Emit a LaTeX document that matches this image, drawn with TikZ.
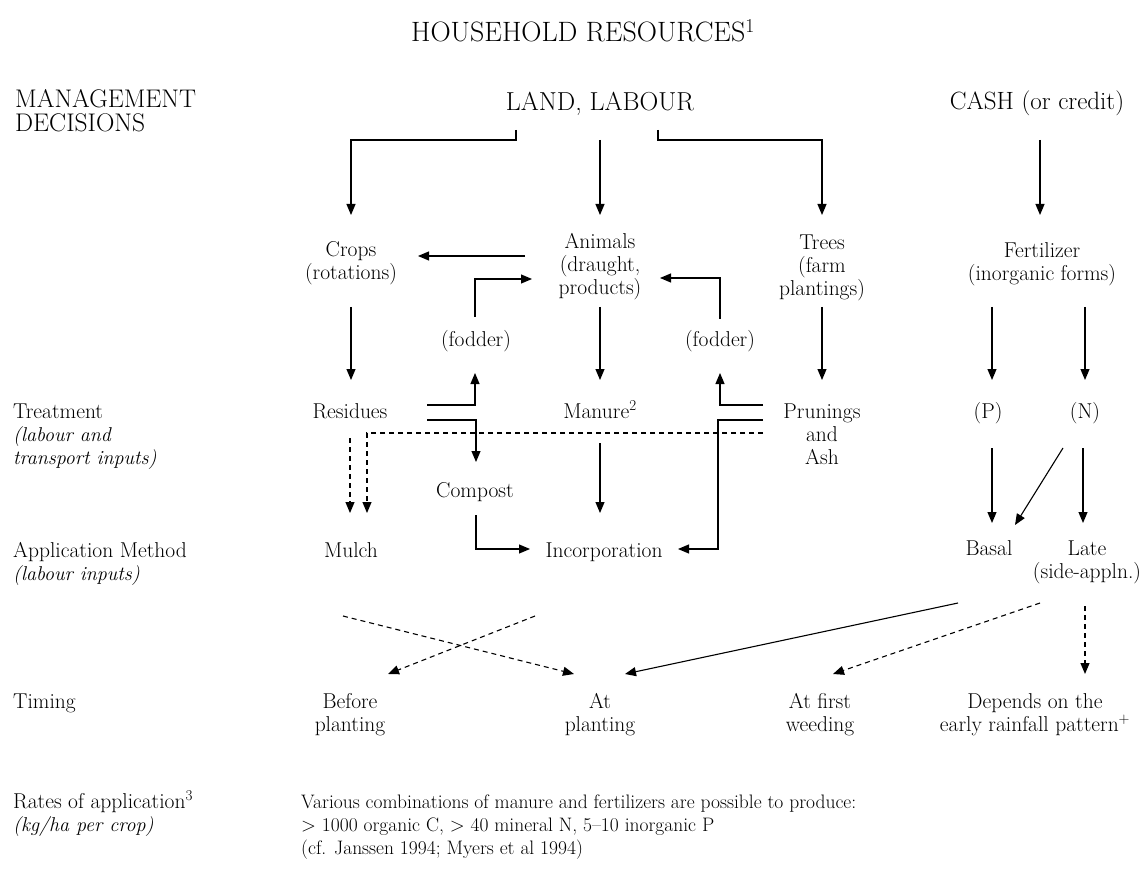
\documentclass[tikz,border=0pt]{standalone}
\usetikzlibrary{arrows.meta,calc}
\newcommand\sideit[1]{{\fontsize{20}{23}\selectfont\itshape #1}}
\begin{document}
\begin{tikzpicture}[x=1pt,y=-1pt,
  lbl/.style={inner sep=0pt,anchor=base,align=center,font=\fontsize{21.5}{23}\selectfont},
  caps/.style={inner sep=0pt,anchor=base,font=\fontsize{26}{26}\selectfont},
  side/.style={inner sep=0pt,anchor=base west,align=left,font=\fontsize{21.5}{23}\selectfont},
  arr/.style={line width=1.1pt,-{Triangle[width=9pt,length=11pt]}},
  darr/.style={arr,dash pattern=on 5pt off 4pt}]
\useasboundingbox (0,0) rectangle (1148,890);

% headings (the base anchor of a multi-line node sits on its last line)
\node[caps,font=\fontsize{28}{28}\selectfont] (title) at (583,42) {HOUSEHOLD RESOURCES\textsuperscript{1}};
\node[side,font=\fontsize{25.5}{24}\selectfont] (mgmt) at (15,132) {MANAGEMENT\\DECISIONS};
\node[caps] (land) at (600,111) {LAND, LABOUR};
\node[caps,font=\fontsize{25}{26}\selectfont] (cash) at (1037,110) {CASH (or credit)};

% resources
\node[lbl] (crops) at (351,280) {Crops\\(rotations)};
\node[lbl] (animals) at (600,295) {Animals\\(draught,\\products)};
\node[lbl] (trees) at (822,296) {Trees\\(farm\\plantings)};
\node[lbl] (fert) at (1042,281) {Fertilizer\\(inorganic forms)};
\node[lbl] (fod1) at (476,347) {(fodder)};
\node[lbl] (fod2) at (720,347) {(fodder)};

% treatment
\node[lbl] (res) at (350,418) {Residues};
\node[lbl] (man) at (600,418) {Manure\textsuperscript{2}};
\node[lbl] (prun) at (822,464) {Prunings\\and\\Ash};
\node[lbl] (pp) at (988,418) {(P)};
\node[lbl] (nn) at (1085,418) {(N)};
\node[lbl] (comp) at (475,497) {Compost};

% application method
\node[lbl] (mulch) at (351,557) {Mulch};
\node[lbl] (inc) at (604,557) {Incorporation};
\node[lbl] (basal) at (989,555) {Basal};
\node[lbl] (late) at (1087,578) {Late\\(side-appln.)};

% timing
\node[lbl] (before) at (350,731) {Before\\planting};
\node[lbl] (atpl) at (600,731) {At\\planting};
\node[lbl] (first) at (820,731) {At first\\weeding};
\node[lbl] (dep) at (1035,731) {Depends on the\\early rainfall pattern\textsuperscript{+}};

% row labels
\node[side] (treat) at (13,464) {Treatment\\\sideit{(labour and}\\\sideit{transport inputs)}};
\node[side] (appm) at (13,580) {Application Method\\\sideit{(labour inputs)}};
\node[side] (timing) at (13,708) {Timing};
\node[side] (rates) at (13,831) {Rates of application\textsuperscript{3}\\\sideit{(kg/ha per crop)}};
\node[side,font=\fontsize{19.5}{23}\selectfont] (combo) at (301,854) {Various combinations of manure and fertilizers are possible to produce:\\\textgreater{} 1000 organic C, \textgreater{} 40 mineral N, 5--10 inorganic P\\(cf. Janssen 1994; Myers et al 1994)};

% land and labour, cash
\draw[arr] ($(land.base)+(-84,19)$) |- ($(crops.base)+(0,-140)$) -- ($(crops.base)+(0,-65)$);
\draw[arr] ($(land.base)+(0,29)$) -- ($(animals.base)+(0,-80)$);
\draw[arr] ($(land.base)+(58,19)$) |- ($(trees.base)+(0,-156)$) -- ($(trees.base)+(0,-81)$);
\draw[arr] ($(cash.base)+(3,30)$) -- ($(fert.base)+(-2,-66)$);

% animals and fodder
\draw[arr] ($(animals.base)+(-75,-39)$) -- ($(crops.base)+(67,-24)$);
\draw[arr] ($(fod1.base)+(-1,-30)$) |- ($(animals.base)+(-68,-16)$);
\draw[arr] ($(fod2.base)+(0,-28)$) |- ($(animals.base)+(60,-17)$);

% resources to treatment
\draw[arr] ($(crops.base)+(0,27)$) -- ($(res.base)+(1,-38)$);
\draw[arr] ($(animals.base)+(0,12)$) -- ($(man.base)+(0,-38)$);
\draw[arr] ($(trees.base)+(0,11)$) -- ($(prun.base)+(0,-84)$);
\draw[arr] ($(fert.base)+(-50,26)$) -- ($(pp.base)+(4,-38)$);
\draw[arr] ($(fert.base)+(43,26)$) -- ($(nn.base)+(0,-38)$);

% residues and prunings
\draw[arr] ($(res.base)+(77,-13)$) -| ($(fod1.base)+(-1,26)$);
\draw[arr] ($(res.base)+(77,2)$) -| ($(comp.base)+(1,-35)$);
\draw[arr] ($(prun.base)+(-59,-59)$) -| ($(fod2.base)+(0,26)$);
\draw[arr] ($(prun.base)+(-59,-44)$) -| ($(inc.base)+(114,-8)$) -- ($(inc.base)+(74,-8)$);
\draw[darr] ($(prun.base)+(-59,-31)$) -| ($(mulch.base)+(16,-44)$);
\draw[darr] ($(res.base)+(0,20)$) -- ($(mulch.base)+(-1,-44)$);
\draw[arr] ($(man.base)+(0,25)$) -- ($(inc.base)+(-4,-44)$);
\draw[arr] ($(comp.base)+(1,18)$) |- ($(inc.base)+(-74,-8)$);

% fertilizer forms
\draw[arr] ($(pp.base)+(4,30)$) -- ($(basal.base)+(3,-32)$);
\draw[arr] ($(nn.base)+(-2,30)$) -- ($(late.base)+(-4,-55)$);
\draw[arr] ($(nn.base)+(-22,30)$) -- ($(basal.base)+(26,-30)$);

% timing
\draw[darr] ($(mulch.base)+(-8,59)$) -- ($(atpl.base)+(-26,-57)$);
\draw[darr] ($(inc.base)+(-69,59)$) -- ($(before.base)+(38,-57)$);
\draw[arr] ($(basal.base)+(-31,48)$) -- ($(atpl.base)+(25,-57)$);
\draw[darr] ($(late.base)+(-47,25)$) -- ($(first.base)+(13,-57)$);
\draw[darr] ($(late.base)+(-2,28)$) -- ($(dep.base)+(50,-57)$);
\end{tikzpicture}
\end{document}
